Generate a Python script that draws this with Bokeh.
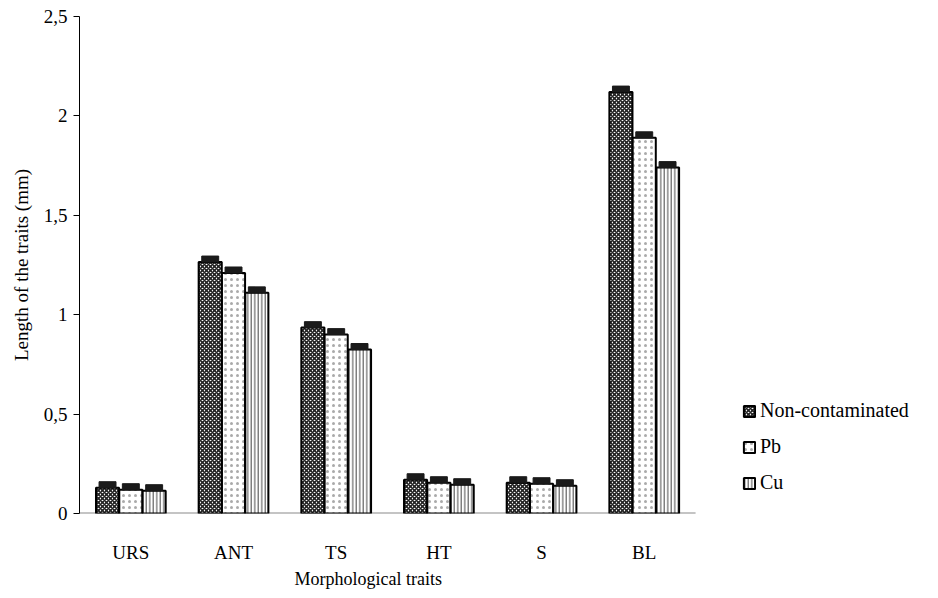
from bokeh.plotting import figure
from bokeh.models import (ColumnDataSource, Legend, LegendItem, Title,
                          CustomJSTickFormatter, FixedTicker, Range1d)
from bokeh.embed import file_html
from bokeh.resources import INLINE

traits = ["URS", "ANT", "TS", "HT", "S", "BL"]
non_contaminated = [0.13, 1.265, 0.935, 0.17, 0.155, 2.12]
pb = [0.12, 1.21, 0.90, 0.155, 0.15, 1.89]
cu = [0.115, 1.11, 0.825, 0.145, 0.14, 1.74]
err_nc = [0.03, 0.03, 0.03, 0.03, 0.03, 0.03]
err_pb = [0.03, 0.03, 0.03, 0.03, 0.03, 0.03]
err_cu = [0.03, 0.03, 0.03, 0.03, 0.03, 0.03]
y_ticks = [0, 0.5, 1, 1.5, 2, 2.5]

FONT = "Liberation Serif"
FONT_Q = "'Liberation Serif', 'Times New Roman', serif"

n = len(traits)
centers = [i + 0.5 for i in range(n)]
bw = 0.225
off = 0.227

src = ColumnDataSource(dict(
    xc=centers,
    x_nc=[c - off for c in centers], x_pb=centers, x_cu=[c + off for c in centers],
    nc=non_contaminated, pb=pb, cu=cu,
    nc_hi=[v + e for v, e in zip(non_contaminated, err_nc)],
    pb_hi=[v + e for v, e in zip(pb, err_pb)],
    cu_hi=[v + e for v, e in zip(cu, err_cu)],
))

# frame extends to the right so the legend (inside the frame) is not clipped
p = figure(x_range=Range1d(0, 8.21), y_range=Range1d(0, 2.5),
           frame_width=843, frame_height=497, output_backend="svg", toolbar_location=None,
           min_border_left=79, min_border_right=0, min_border_top=16, min_border_bottom=0)
p.outline_line_color = None
p.grid.grid_line_color = None
p.background_fill_color = "white"
p.border_fill_color = "white"

# baseline (x axis line) spanning only the categories
p.segment(x0=[0], x1=[n], y0=[0], y1=[0], line_color="#8a8a8a", line_width=2)

r_nc = p.vbar(x="x_nc", top="nc", width=bw, source=src,
              fill_color="white", hatch_pattern="x", hatch_color="#222222",
              hatch_scale=4, hatch_weight=1.6, line_color="black", line_width=2)
r_pb = p.vbar(x="x_pb", top="pb", width=bw, source=src,
              fill_color="white", hatch_pattern=".", hatch_color="#aaaaaa",
              hatch_scale=6, hatch_weight=1, line_color="black", line_width=2)
r_cu = p.vbar(x="x_cu", top="cu", width=bw, source=src,
              fill_color="white", hatch_pattern="|", hatch_color="#444444",
              hatch_scale=3.5, hatch_weight=1, line_color="black", line_width=2)

for xcol, col, lo in (("x_nc", "nc_hi", "nc"), ("x_pb", "pb_hi", "pb"), ("x_cu", "cu_hi", "cu")):
    p.vbar(x=xcol, top=col, bottom=lo, width=0.165,
           source=src, fill_color="#1a1a1a", line_color="#1a1a1a", line_width=1)

# y axis
p.yaxis.ticker = FixedTicker(ticks=y_ticks)
p.yaxis.formatter = CustomJSTickFormatter(code="return tick.toString().replace('.', ',');")
p.yaxis.minor_tick_line_color = None
p.yaxis.major_tick_out = 6
p.yaxis.major_tick_in = 0
p.yaxis.axis_line_color = "black"
p.yaxis.major_tick_line_color = "black"
p.yaxis.major_label_text_font = FONT
p.yaxis.major_label_text_font_size = "19px"
p.yaxis.major_label_text_color = "black"
p.yaxis.major_label_standoff = 6
p.yaxis.axis_label = "Length of the traits (mm)"
p.yaxis.axis_label_text_font = FONT_Q
p.yaxis.axis_label_text_font_style = "normal"
p.yaxis.axis_label_text_font_size = "19px"
p.yaxis.axis_label_text_color = "black"
p.yaxis.axis_label_standoff = 9

# x axis
p.xaxis.ticker = FixedTicker(ticks=centers)
p.xaxis.major_label_overrides = {c: t for c, t in zip(centers, traits)}
p.xaxis.axis_line_color = None
p.xaxis.major_tick_line_color = None
p.xaxis.minor_tick_line_color = None
p.xaxis.major_label_text_font = FONT
p.xaxis.major_label_text_font_size = "19px"
p.xaxis.major_label_text_color = "black"
p.xaxis.major_label_standoff = 22

xt = Title(text="Morphological traits", align="left", offset=215, standoff=2,
           text_font=FONT_Q, text_font_size="18px", text_font_style="normal",
           text_color="black")
p.add_layout(xt, "below")

legend = Legend(items=[
    LegendItem(label="Non-contaminated", renderers=[r_nc]),
    LegendItem(label="Pb", renderers=[r_pb]),
    LegendItem(label="Cu", renderers=[r_cu]),
], location=(663, 19))
legend.label_text_font = FONT_Q
legend.label_text_font_size = "20px"
legend.label_text_color = "black"
legend.glyph_width = 14
legend.glyph_height = 14
legend.label_height = 20
legend.spacing = 13
legend.padding = 0
legend.margin = 0
legend.label_standoff = 4
legend.border_line_color = None
legend.background_fill_alpha = 0
p.add_layout(legend, "center")

open("out.html", "w").write(file_html(p, INLINE))
